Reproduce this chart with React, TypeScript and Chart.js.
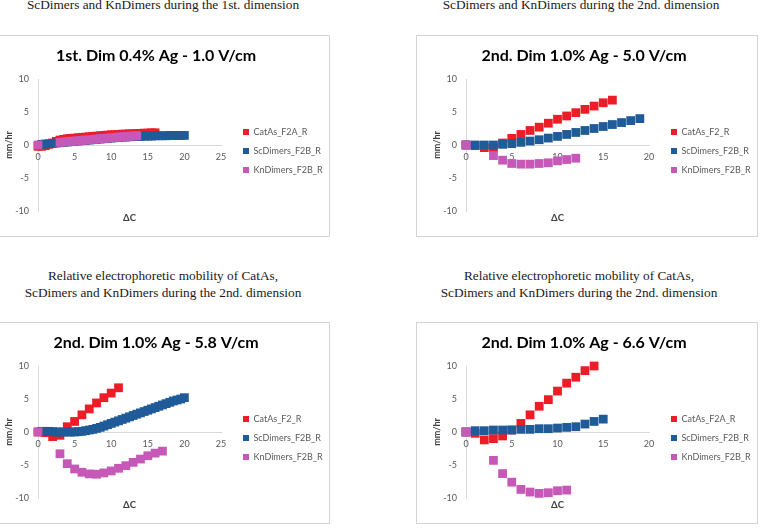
import { useEffect, useRef } from "react";
import { Chart, registerables } from "chart.js";

Chart.register(...registerables);

// ---------- captions & labels ----------
const CAPTION_LINE_1 = "Relative electrophoretic mobility of CatAs,";
const CAPTION_DIM1 = "ScDimers and KnDimers during the 1st. dimension";
const CAPTION_DIM2 = "ScDimers and KnDimers during the 2nd. dimension";
const Y_AXIS_TITLE = "mm/hr";
const X_AXIS_TITLE = "ΔC";
const Y_TICK_STEP = 5;

const COLOR_CATAS = "#ec1d26";
const COLOR_SC = "#1f5b98";
const COLOR_KN = "#c659b8";

// ---------- 1st. Dim 0.4% Ag - 1.0 V/cm ----------
const A_CATAS_X = [0, 0.5, 1, 1.5, 2, 2.5, 3, 3.5, 4, 4.5, 5, 5.5, 6, 6.5, 7, 7.5, 8, 8.5, 9, 9.5, 10, 10.5, 11, 11.5, 12, 12.5, 13, 13.5, 14, 14.5, 15, 15.5, 16];
const A_CATAS_Y = [-0.2, -0.2, -0.1, 0.1, 0.3, 0.55, 0.75, 0.85, 0.95, 1.0, 1.05, 1.1, 1.15, 1.2, 1.25, 1.3, 1.35, 1.4, 1.45, 1.5, 1.55, 1.55, 1.6, 1.65, 1.65, 1.7, 1.7, 1.75, 1.75, 1.8, 1.8, 1.85, 1.85];
const A_SC_X = [0.5, 1, 1.5, 2, 2.5, 3, 3.5, 4, 4.5, 5, 5.5, 6, 6.5, 7, 7.5, 8, 8.5, 9, 9.5, 10, 10.5, 11, 11.5, 12, 12.5, 13, 13.5, 14, 14.5, 15, 15.5, 16, 16.5, 17, 17.5, 18, 18.5, 19, 19.5, 20];
const A_SC_Y = [0.1, 0.15, 0.2, 0.25, 0.3, 0.35, 0.4, 0.45, 0.5, 0.55, 0.6, 0.65, 0.7, 0.75, 0.8, 0.85, 0.9, 0.95, 1.0, 1.05, 1.1, 1.15, 1.2, 1.2, 1.25, 1.3, 1.3, 1.3, 1.35, 1.35, 1.35, 1.4, 1.4, 1.4, 1.4, 1.45, 1.45, 1.45, 1.45, 1.45];
const A_KN_X = [0, 3, 3.5, 4, 4.5, 5, 5.5, 6, 6.5, 7, 7.5, 8, 8.5, 9, 9.5, 10, 10.5, 11, 11.5, 12, 12.5, 13, 13.5];
const A_KN_Y = [0, 0.4, 0.45, 0.5, 0.55, 0.6, 0.65, 0.7, 0.75, 0.8, 0.85, 0.9, 0.95, 1.0, 1.05, 1.1, 1.15, 1.2, 1.25, 1.3, 1.35, 1.35, 1.4];

// ---------- 2nd. Dim 1.0% Ag - 5.0 V/cm ----------
const B_CATAS_X = [0, 1, 2, 3, 4, 5, 6, 7, 8, 9, 10, 11, 12, 13, 14, 15, 16];
const B_CATAS_Y = [0, -0.1, -0.4, -0.4, 0.3, 1.0, 1.6, 2.2, 2.7, 3.3, 3.9, 4.4, 4.9, 5.4, 5.9, 6.4, 6.8];
const B_SC_X = [0, 1, 2, 3, 4, 5, 6, 7, 8, 9, 10, 11, 12, 13, 14, 15, 16, 17, 18, 19];
const B_SC_Y = [0, 0, 0, 0, 0.1, 0.2, 0.4, 0.6, 0.8, 1.05, 1.3, 1.6, 1.9, 2.2, 2.5, 2.8, 3.1, 3.4, 3.7, 4.0];
const B_KN_X = [0, 3, 4, 5, 6, 7, 8, 9, 10, 11, 12];
const B_KN_Y = [0, -1.6, -2.3, -2.8, -2.9, -2.9, -2.8, -2.7, -2.4, -2.2, -2.0];

// ---------- 2nd. Dim 1.0% Ag - 5.8 V/cm ----------
const C_CATAS_X = [0, 1, 2, 3, 4, 5, 6, 7, 8, 9, 10, 11];
const C_CATAS_Y = [0, -0.1, -0.7, -0.5, 0.8, 1.6, 2.6, 3.5, 4.4, 5.2, 5.9, 6.7];
const C_SC_X = [0.5, 1, 1.5, 2, 2.5, 3, 3.5, 4, 4.5, 5, 5.5, 6, 6.5, 7, 7.5, 8, 8.5, 9, 9.5, 10, 10.5, 11, 11.5, 12, 12.5, 13, 13.5, 14, 14.5, 15, 15.5, 16, 16.5, 17, 17.5, 18, 18.5, 19, 19.5, 20];
const C_SC_Y = [0.1, 0.1, 0.1, 0.05, 0, 0, 0, 0, 0, 0, 0.05, 0.1, 0.2, 0.3, 0.4, 0.55, 0.7, 0.9, 1.1, 1.3, 1.5, 1.7, 1.9, 2.1, 2.3, 2.5, 2.7, 2.9, 3.1, 3.3, 3.5, 3.7, 3.9, 4.1, 4.3, 4.5, 4.7, 4.85, 5.0, 5.2];
const C_KN_X = [0, 3, 4, 5, 6, 7, 8, 9, 10, 11, 12, 13, 14, 15, 16, 17];
const C_KN_Y = [0, -3.3, -4.8, -5.6, -6.1, -6.35, -6.4, -6.2, -5.9, -5.5, -5.1, -4.6, -4.1, -3.6, -3.2, -2.9];

// ---------- 2nd. Dim 1.0% Ag - 6.6 V/cm ----------
const D_CATAS_X = [0, 1, 2, 3, 4, 5, 6, 7, 8, 9, 10, 11, 12, 13, 14];
const D_CATAS_Y = [0, -0.2, -1.2, -1.0, -0.6, 0.3, 1.3, 2.6, 3.9, 4.9, 6.2, 7.4, 8.3, 9.3, 10.0];
const D_SC_X = [0, 1, 2, 3, 4, 5, 6, 7, 8, 9, 10, 11, 12, 13, 14, 15];
const D_SC_Y = [0, 0.2, 0.2, 0.3, 0.3, 0.3, 0.4, 0.4, 0.5, 0.5, 0.6, 0.7, 0.8, 1.2, 1.6, 1.95];
const D_KN_X = [0, 3, 4, 5, 6, 7, 8, 9, 10, 11];
const D_KN_Y = [0, -4.3, -6.3, -7.6, -8.7, -9.1, -9.3, -9.2, -8.9, -8.8];

type Series = { label: string; xs: number[]; ys: number[]; color: string };

const FONT = "Lato";
const CANVAS_W = 340;
const CANVAS_H = 200;

// Draws the horizontal axis title under the plot area (the x axis itself sits at y = 0).
const xTitlePlugin = {
  id: "xTitle",
  afterDraw(chart: any) {
    const { ctx, chartArea } = chart;
    ctx.save();
    ctx.font = `bold 9.5px ${FONT}`;
    ctx.fillStyle = "#404040";
    ctx.textAlign = "center";
    ctx.textBaseline = "middle";
    ctx.fillText(X_AXIS_TITLE, (chartArea.left + chartArea.right) / 2, chartArea.bottom + 7);
    ctx.restore();
  },
};

function Panel(props: { left: number; top: number; title: string; xMax: number; series: Series[] }) {
  const ref = useRef<HTMLCanvasElement>(null);
  const { left, top, title, xMax, series } = props;

  useEffect(() => {
    const n = series.length;
    const chart = new Chart(ref.current as HTMLCanvasElement, {
      type: "scatter",
      data: {
        datasets: series.map((s, i) => ({
          label: s.label,
          data: s.xs.map((x, j) => ({ x, y: s.ys[j] })),
          backgroundColor: s.color,
          borderColor: s.color,
          borderWidth: 0,
          pointStyle: "rect",
          pointRadius: 6.2,
          pointHoverRadius: 6.2,
          clip: false,
          order: n - i,
        })),
      },
      options: {
        responsive: false,
        animation: false,
        events: [],
        layout: { padding: { top: 0, left: 0, right: 6, bottom: 25 } },
        plugins: {
          tooltip: { enabled: false },
          title: {
            display: true,
            text: title,
            color: "#000000",
            font: { family: FONT, size: 16, weight: "bold" },
            padding: { top: 10.4, bottom: 13.4 },
          },
          legend: {
            position: "right",
            align: "center",
            fullSize: false,
            maxWidth: 90,
            title: { display: true, text: "", font: { size: 10 }, padding: 0 },
            labels: {
              boxWidth: 6,
              boxHeight: 6,
              padding: 10,
              color: "#595959",
              font: { family: FONT, size: 9 },
              sort: (a: any, b: any) => a.datasetIndex - b.datasetIndex,
            },
          },
        },
        scales: {
          y: {
            type: "linear",
            position: "left",
            min: -10,
            max: 10,
            grid: { display: false, drawTicks: false },
            border: { display: true, color: "#d9d9d9" },
            ticks: { stepSize: Y_TICK_STEP, padding: 9, color: "#595959", font: { family: FONT, size: 9 } },
            title: {
              display: true,
              text: Y_AXIS_TITLE,
              color: "#404040",
              font: { family: FONT, size: 9, weight: "bold" },
              padding: { top: 14.5, bottom: 0 },
            },
            afterFit: (s: any) => {
              s.width = 49;
              s.paddingTop = 0;
              s.paddingBottom = 0;
            },
          },
          x: {
            type: "linear",
            position: { y: 0 },
            min: 0,
            max: xMax,
            grid: { display: false, drawTicks: false },
            border: { display: true, color: "#d9d9d9" },
            ticks: { stepSize: 5, padding: 7, color: "#595959", font: { family: FONT, size: 9 } },
          },
          gap: {
            type: "linear",
            axis: "y",
            position: "right",
            display: true,
            grid: { display: false, drawTicks: false },
            border: { display: false },
            ticks: { display: false },
            afterFit: (s: any) => {
              s.width = 12;
            },
          },
        },
      } as any,
      plugins: [xTitlePlugin],
    });
    return () => chart.destroy();
  }, []);

  return (
    <div
      style={{
        position: "absolute",
        left,
        top,
        width: CANVAS_W,
        height: CANVAS_H,
        border: "1px solid #d4d4d4",
        background: "#ffffff",
      }}
    >
      <canvas
        ref={ref}
        width={CANVAS_W}
        height={CANVAS_H}
        style={{ display: "block", width: CANVAS_W, height: CANVAS_H }}
      />
    </div>
  );
}

function Caption(props: { cx: number; top: number; lines: string[] }) {
  return (
    <div
      style={{
        position: "absolute",
        left: props.cx - 200,
        top: props.top,
        width: 400,
        textAlign: "center",
        fontFamily: "'Liberation Serif', 'Times New Roman', serif",
        fontSize: 13.3,
        lineHeight: "17px",
        color: "#1a1a1a",
        whiteSpace: "nowrap",
      }}
    >
      {props.lines.map((l, i) => (
        <div key={i}>{l}</div>
      ))}
    </div>
  );
}

export default function App() {
  const seriesA: Series[] = [
    { label: "CatAs_F2A_R", xs: A_CATAS_X, ys: A_CATAS_Y, color: COLOR_CATAS },
    { label: "ScDimers_F2B_R", xs: A_SC_X, ys: A_SC_Y, color: COLOR_SC },
    { label: "KnDimers_F2B_R", xs: A_KN_X, ys: A_KN_Y, color: COLOR_KN },
  ];
  const seriesB: Series[] = [
    { label: "CatAs_F2_R", xs: B_CATAS_X, ys: B_CATAS_Y, color: COLOR_CATAS },
    { label: "ScDimers_F2B_R", xs: B_SC_X, ys: B_SC_Y, color: COLOR_SC },
    { label: "KnDimers_F2B_R", xs: B_KN_X, ys: B_KN_Y, color: COLOR_KN },
  ];
  const seriesC: Series[] = [
    { label: "CatAs_F2_R", xs: C_CATAS_X, ys: C_CATAS_Y, color: COLOR_CATAS },
    { label: "ScDimers_F2B_R", xs: C_SC_X, ys: C_SC_Y, color: COLOR_SC },
    { label: "KnDimers_F2B_R", xs: C_KN_X, ys: C_KN_Y, color: COLOR_KN },
  ];
  const seriesD: Series[] = [
    { label: "CatAs_F2A_R", xs: D_CATAS_X, ys: D_CATAS_Y, color: COLOR_CATAS },
    { label: "ScDimers_F2B_R", xs: D_SC_X, ys: D_SC_Y, color: COLOR_SC },
    { label: "KnDimers_F2B_R", xs: D_KN_X, ys: D_KN_Y, color: COLOR_KN },
  ];

  return (
    <div
      style={{
        position: "absolute",
        left: 0,
        top: 0,
        width: 760,
        height: 531,
        overflow: "hidden",
        background: "#ffffff",
      }}
    >
      <Caption cx={163} top={-21.5} lines={[CAPTION_LINE_1, CAPTION_DIM1]} />
      <Caption cx={581} top={-21.5} lines={[CAPTION_LINE_1, CAPTION_DIM2]} />
      <Caption cx={163} top={266.5} lines={[CAPTION_LINE_1, CAPTION_DIM2]} />
      <Caption cx={579} top={266.5} lines={[CAPTION_LINE_1, CAPTION_DIM2]} />

      <Panel left={-12} top={35} title="1st. Dim 0.4% Ag - 1.0 V/cm" xMax={25} series={seriesA} />
      <Panel left={416} top={35} title="2nd. Dim 1.0% Ag - 5.0 V/cm" xMax={20} series={seriesB} />
      <Panel left={-12} top={322} title="2nd. Dim 1.0% Ag - 5.8 V/cm" xMax={25} series={seriesC} />
      <Panel left={416} top={322} title="2nd. Dim 1.0% Ag - 6.6 V/cm" xMax={20} series={seriesD} />
    </div>
  );
}
